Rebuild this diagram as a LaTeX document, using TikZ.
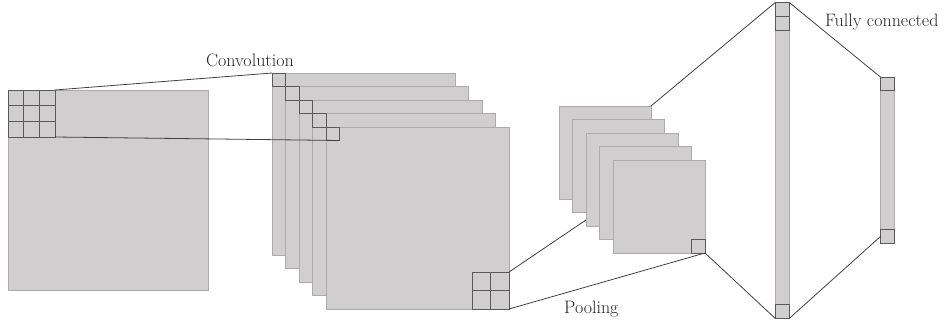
\documentclass[tikz,border=0pt]{standalone}
\usetikzlibrary{calc}
\definecolor{mapfill}{HTML}{D0CECE}
\definecolor{mapborder}{HTML}{AEAAAA}
\definecolor{sqborder}{HTML}{5A5A5A}
\definecolor{linkcol}{HTML}{404040}
\definecolor{txtcol}{HTML}{262626}
\begin{document}
\begin{tikzpicture}[x=1pt,y=-1pt,
  fmap/.style={draw=mapborder,fill=mapfill,line width=0.9pt,rectangle,inner sep=0pt,outer sep=0pt,anchor=north west},
  sq/.style={draw=sqborder,fill=mapfill,line width=0.9pt,rectangle,inner sep=0pt,outer sep=0pt},
  link/.style={draw=linkcol,line width=0.8pt},
  gridline/.style={draw=sqborder,line width=0.9pt},
  lbl/.style={inner sep=0pt,anchor=base west,text=txtcol,font=\fontsize{18}{20}\selectfont}]
\useasboundingbox (0,0) rectangle (951,324);
% input
\node[fmap,minimum width=200pt,minimum height=200pt] (in) at (8,90) {};
\node[sq,anchor=north west,minimum width=47pt,minimum height=47pt] (k) at (8,90) {};
\foreach \f in {1/3,2/3}{
  \draw[gridline] ($(k.north west)!\f!(k.north east)$) -- ($(k.south west)!\f!(k.south east)$);
  \draw[gridline] ($(k.north west)!\f!(k.south west)$) -- ($(k.north east)!\f!(k.south east)$);
}
% convolution maps
\foreach \i in {1,...,5}{
  \node[fmap,minimum width=183pt,minimum height=182pt] (c\i) at ({272+13.5*(\i-1)},{73+13.5*(\i-1)}) {};
  \node[sq,anchor=north west,minimum width=13.5pt,minimum height=13.5pt] (s\i) at (c\i.north west) {};
}
\node[sq,anchor=south east,minimum width=37pt,minimum height=37pt] (p) at (c5.south east) {};
\draw[gridline] (p.north) -- (p.south);
\draw[gridline] (p.west) -- (p.east);
\draw[link] (k.north east) -- (s1.north west);
\draw[link] (k.south east) -- (s5.south east);
\node[lbl] (conv) at (206,66.7) {Convolution};
% pooling maps
\coordinate (phid) at (586,220);
\draw[link] (p.north east) -- (phid);
\foreach \i in {1,...,5}{
  \node[fmap,minimum width=92pt,minimum height=93pt] (q\i) at ({559+13.5*(\i-1)},{106+13.5*(\i-1)}) {};
}
\node[sq,anchor=south east,minimum width=13.5pt,minimum height=14pt] (r) at (q5.south east) {};
\draw[link] (p.south east) -- (r.south east);
\node[lbl] (pool) at (564,313) {Pooling};
% fully connected 1
\node[fmap,minimum width=14.5pt,minimum height=315.5pt] (fa) at (775,2.7) {};
\node[sq,anchor=north west,minimum width=14.5pt,minimum height=13.5pt] (fa1) at (fa.north west) {};
\node[sq,anchor=north west,minimum width=14.5pt,minimum height=14.5pt] (fa2) at (fa1.south west) {};
\node[sq,anchor=south west,minimum width=14.5pt,minimum height=14pt] (fa3) at (fa.south west) {};
\draw[link] (q1.north east) -- (fa.north west);
\draw[link] (r.south east) -- (fa.south west);
% fully connected 2
\node[fmap,minimum width=13.6pt,minimum height=166pt] (fb) at (880.7,77.3) {};
\node[sq,anchor=north west,minimum width=13.6pt,minimum height=13.5pt] (fb1) at (fb.north west) {};
\node[sq,anchor=south west,minimum width=13.6pt,minimum height=14pt] (fb2) at (fb.south west) {};
\draw[link] (fa.north east) -- (fb1.north west);
\draw[link] (fa.south east) -- (fb2.west);
\node[lbl] (fc) at (825,26.7) {Fully connected};
\end{tikzpicture}
\end{document}
